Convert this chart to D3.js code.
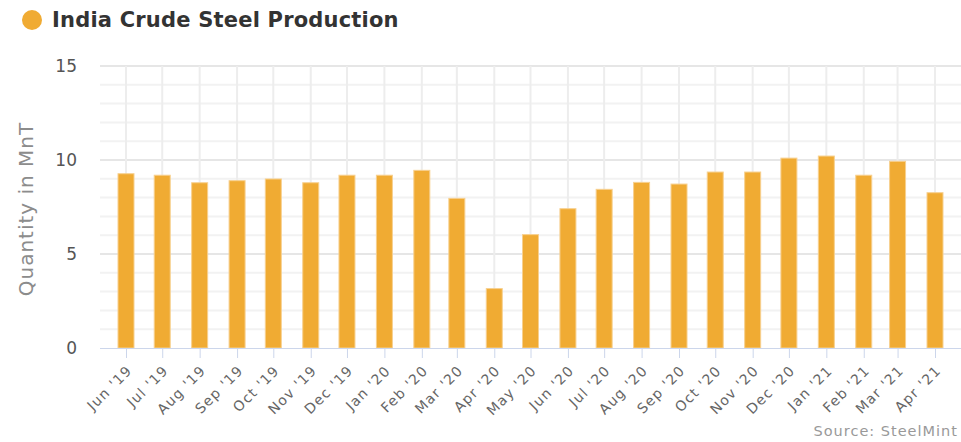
<!DOCTYPE html>
<html lang="en">
<head>
  <meta charset="UTF-8">
  <title>India Crude Steel Production</title>
  <script src="https://d3js.org/d3.v7.min.js"></script>
  <style>
    body { margin: 0; background: #fff; font-family: "DejaVu Sans", Arial, sans-serif; }
  </style>
</head>
<body>
<div id="viz"></div>

<script>
// Data
var months = ["2019-06", "2019-07", "2019-08", "2019-09", "2019-10", "2019-11", "2019-12",
  "2020-01", "2020-02", "2020-03", "2020-04", "2020-05", "2020-06", "2020-07", "2020-08",
  "2020-09", "2020-10", "2020-11", "2020-12", "2021-01", "2021-02", "2021-03", "2021-04"];
var production = [9.27, 9.19, 8.79, 8.90, 8.99, 8.79, 9.19, 9.19, 9.45, 7.96, 3.16,
  6.03, 7.41, 8.44, 8.81, 8.72, 9.36, 9.36, 10.10, 10.21, 9.19, 9.93, 8.26];
var yTicks = [0, 5, 10, 15];
var seriesName = "India Crude Steel Production";
var yTitle = "Quantity in MnT";
var sourceText = "Source: SteelMint";

var width = 961, height = 442;
var plotLeft = 100, plotRight = 961, plotTop = 66, plotBottom = 348;
var parse = d3.utcParse("%Y-%m");
var dates = months.map(parse);
var barColor = "#f0ab33";
var font = "'DejaVu Sans', Arial, sans-serif";

var svg = d3.select("#viz").append("svg")
    .attr("width", width)
    .attr("height", height)
    .style("font-family", font);

// time scale: first and last month sit ~26px inside the plot area
var x = d3.scaleUtc()
    .domain([dates[0], dates[dates.length - 1]])
    .range([plotLeft + 26, plotRight - 26]);

var y = d3.scaleLinear()
    .domain([0, 15])
    .range([plotBottom, plotTop]);

// minor horizontal grid (every 1)
svg.append("g").selectAll("line")
  .data(d3.range(1, 16))
  .enter().append("line")
    .attr("x1", plotLeft).attr("x2", plotRight)
    .attr("y1", d => y(d)).attr("y2", d => y(d))
    .attr("stroke", d => d % 5 === 0 ? "#e6e6e6" : "#f2f2f2")
    .attr("stroke-width", 2);

// vertical grid
svg.append("g").selectAll("line")
  .data(dates)
  .enter().append("line")
    .attr("x1", d => x(d)).attr("x2", d => x(d))
    .attr("y1", plotTop).attr("y2", plotBottom)
    .attr("stroke", "#ededed")
    .attr("stroke-width", 2);

// bars
var barW = 16;
svg.append("g").selectAll("rect")
  .data(production)
  .enter().append("rect")
    .attr("x", (d, i) => x(dates[i]) - barW / 2)
    .attr("y", d => y(d))
    .attr("width", barW)
    .attr("height", d => y(0) - y(d))
    .attr("fill", barColor)
    .attr("stroke", "#f7d08f")
    .attr("stroke-width", 1);

// x axis
var xAxis = svg.append("g")
    .attr("transform", "translate(0," + plotBottom + ")")
    .call(d3.axisBottom(x)
      .tickValues(dates)
      .tickSize(10)
      .tickSizeOuter(0)
      .tickFormat(d3.utcFormat("%b '%y")));
xAxis.select(".domain").remove();
xAxis.selectAll(".tick line").attr("stroke", "#ccd6eb");
xAxis.selectAll(".tick text")
    .attr("fill", "#666")
    .style("font-size", "14px")
    .style("letter-spacing", "1.2px")
    .style("font-family", font)
    .attr("text-anchor", "end")
    .attr("dy", "0.35em")
    .attr("transform", "translate(3,20) rotate(-45)")
    .attr("y", 0);
svg.append("line")
    .attr("x1", plotLeft).attr("x2", plotRight)
    .attr("y1", plotBottom + 0.5).attr("y2", plotBottom + 0.5)
    .attr("stroke", "#ccd6eb");

// y axis labels
svg.append("g").selectAll("text")
  .data(yTicks)
  .enter().append("text")
    .attr("x", 77)
    .attr("y", d => y(d))
    .attr("dy", "0.35em")
    .attr("text-anchor", "end")
    .attr("fill", "#555")
    .style("font-size", "17px")
    .text(d => d);

svg.append("text")
    .attr("transform", "translate(33," + ((plotTop + plotBottom) / 2 + 2) + ") rotate(-90)")
    .attr("text-anchor", "middle")
    .attr("fill", "#8c8c8c")
    .style("font-size", "20px")
    .style("letter-spacing", "1px")
    .text(yTitle);

// legend
svg.append("circle")
    .attr("cx", 32).attr("cy", 20).attr("r", 10)
    .attr("fill", barColor);
svg.append("text")
    .attr("x", 52).attr("y", 27)
    .attr("fill", "#333")
    .style("font-size", "21px")
    .style("font-weight", "bold")
    .style("letter-spacing", "0.2px")
    .text(seriesName);

// source
svg.append("text")
    .attr("x", 958).attr("y", 436)
    .attr("text-anchor", "end")
    .attr("fill", "#999")
    .style("font-size", "14.5px")
    .style("letter-spacing", "1px")
    .text(sourceText);
</script>
</body>
</html>
